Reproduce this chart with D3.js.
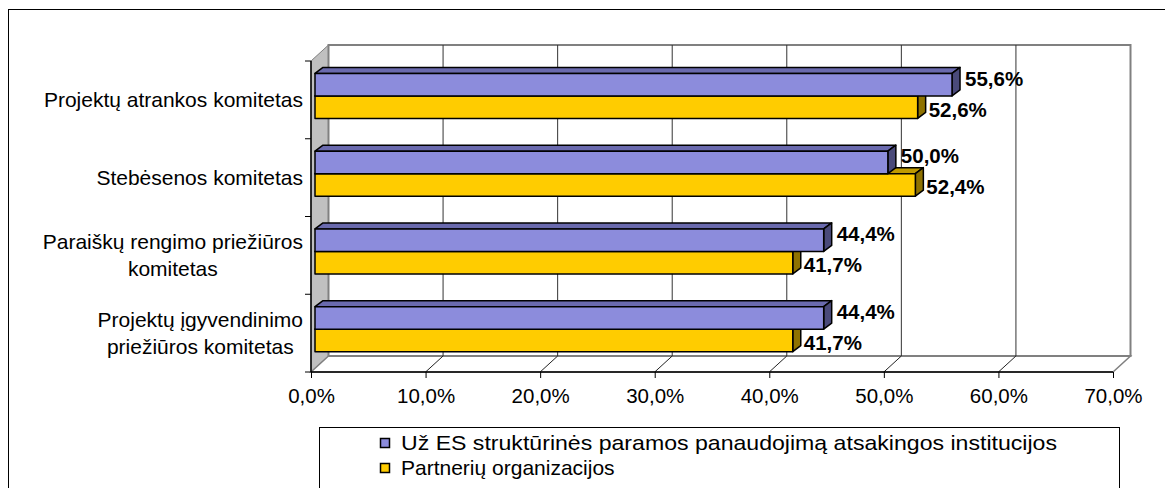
<!DOCTYPE html>
<html><head><meta charset="utf-8">
<script src="https://cdn.jsdelivr.net/npm/d3@7"></script>
<style>html,body{margin:0;padding:0;background:#fff;} svg{display:block;font-family:"Liberation Sans",Arial,sans-serif;}</style>
</head><body>
<svg id="c" width="1165" height="488"></svg>
<script>
const categories = [
  ["Projektų atrankos komitetas"],
  ["Stebėsenos komitetas"],
  ["Paraiškų rengimo priežiūros", "komitetas"],
  ["Projektų įgyvendinimo", "priežiūros komitetas"]
];
const seriesNames = ["Už ES struktūrinės paramos panaudojimą atsakingos institucijos", "Partnerių organizacijos"];
const seriesA = [55.6, 50.0, 44.4, 44.4];
const seriesB = [52.6, 52.4, 41.7, 41.7];
const ticks = [0, 10, 20, 30, 40, 50, 60, 70];

const svg = d3.select("#c");
const fmt = v => v.toFixed(1).replace(".", ",") + "%";

const x0 = 311, x1 = 1113, yTop = 61, yBot = 372;
const D = {dx: 17.5, dy: -16};
const x = d3.scaleLinear().domain([0, 70]).range([x0, x1]);
const y = d3.scaleBand().domain(d3.range(categories.length)).range([yTop, yBot]);

// outer border
svg.append("rect").attr("x", 8.5).attr("y", 9.5).attr("width", 1175).attr("height", 500)
  .attr("fill", "none").attr("stroke", "#000").attr("stroke-width", 1);

// left wall
svg.append("path").attr("d", `M${x0},${yTop}L${x0+D.dx},${yTop+D.dy}L${x0+D.dx},${yBot+D.dy}L${x0},${yBot}Z`)
  .attr("fill", "#c0c0c0").attr("stroke", "#808080").attr("stroke-width", 1);
// floor
svg.append("path").attr("d", `M${x0},${yBot}L${x1},${yBot}L${x1+D.dx},${yBot+D.dy}L${x0+D.dx},${yBot+D.dy}Z`)
  .attr("fill", "#fff").attr("stroke", "#808080").attr("stroke-width", 1.5);
// back wall
svg.append("rect").attr("x", x0+D.dx).attr("y", yTop+D.dy).attr("width", x1-x0).attr("height", yBot-yTop)
  .attr("fill", "#fff").attr("stroke", "#808080").attr("stroke-width", 2);

// gridlines on back wall + floor diagonals
const grid = svg.append("g");
ticks.slice(1, -1).forEach(t => {
  const gx = x(t);
  grid.append("line").attr("x1", gx+D.dx).attr("x2", gx+D.dx).attr("y1", yTop+D.dy).attr("y2", yBot+D.dy)
    .attr("stroke", "#333").attr("stroke-width", 1);
});
ticks.slice(1, -1).forEach(t => {
  const gx = x(t);
  grid.append("line").attr("x1", gx).attr("y1", yBot).attr("x2", gx+D.dx).attr("y2", yBot+D.dy)
    .attr("stroke", "#222").attr("stroke-width", 1);
});

// axes
const xa = svg.append("g").attr("transform", `translate(0,${yBot})`)
  .call(d3.axisBottom(x).tickValues(ticks).tickSize(6).tickPadding(10).tickFormat(fmt));
xa.select(".domain").attr("stroke", "#000").attr("stroke-width", 1.5).attr("d", `M${x0},0H${x1}`);
xa.selectAll(".tick line").attr("stroke", "#000");
xa.selectAll(".tick text").attr("font-size", 20.5).attr("fill", "#000")
  .attr("font-family", '"Liberation Sans",Arial,sans-serif');

svg.append("line").attr("x1", x0).attr("x2", x0).attr("y1", yTop).attr("y2", yBot)
  .attr("stroke", "#000").attr("stroke-width", 1.5);
d3.range(categories.length + 1).forEach(i => {
  const yy = yTop + i * y.step();
  svg.append("line").attr("x1", x0 - 6).attr("x2", x0).attr("y1", yy).attr("y2", yy)
    .attr("stroke", "#000").attr("stroke-width", 1);
});

// category labels
const lab = svg.append("g").attr("font-size", 21).attr("fill", "#000");
categories.forEach((lines, i) => {
  const cy = y(i) + y.bandwidth() / 2;
  const g = lab.append("g");
  const lh = 27;
  const texts = lines.map((l, j) => g.append("text").text(l)
    .attr("y", cy + (j - (lines.length - 1) / 2) * lh).attr("dy", "0.35em"));
  const w = d3.max(texts, t => t.node().getComputedTextLength());
  const right = 303;
  texts.forEach(t => t.attr("x", right - w / 2).attr("text-anchor", "middle"));
});

// bars
const front = {dx: 4, dy: -4};
const bd = {dx: 8, dy: -6};
const barH = 22.5;
const series = [
  {vals: seriesA, fill: "#8c8cdc", top: "#6a6aae", side: "#4a4a7a", off: -1},
  {vals: seriesB, fill: "#ffcc00", top: "#c09a00", side: "#8f7200", off: 0}
];
const bars = svg.append("g");
[1, 0].forEach(si => {
  const s = series[si];
  s.vals.forEach((v, i) => {
    const cy = y(i) + y.bandwidth() / 2 + front.dy;
    const yt = cy + s.off * barH, yb = yt + barH;
    const xl = x(0) + front.dx, xr = x(v) + front.dx;
    const g = bars.append("g").attr("stroke", "#000").attr("stroke-width", 1.5).attr("stroke-linejoin", "round");
    g.append("path").attr("fill", s.top)
      .attr("d", `M${xl},${yt}L${xl+bd.dx},${yt+bd.dy}L${xr+bd.dx},${yt+bd.dy}L${xr},${yt}Z`);
    g.append("path").attr("fill", s.side)
      .attr("d", `M${xr},${yt}L${xr+bd.dx},${yt+bd.dy}L${xr+bd.dx},${yb+bd.dy}L${xr},${yb}Z`);
    g.append("rect").attr("fill", s.fill).attr("x", xl).attr("y", yt).attr("width", xr - xl).attr("height", barH);
  });
});

// data labels with simple vertical separation
const dl = svg.append("g").attr("font-size", 20.5).attr("font-weight", "bold").attr("fill", "#000");
categories.forEach((c, i) => {
  const cy = y(i) + y.bandwidth() / 2 + front.dy;
  let ya = cy - barH / 2 - 2, yb = cy + barH / 2 - 2;
  const minSep = 31;
  if (yb - ya < minSep) { const m = (ya + yb) / 2; ya = m - minSep / 2; yb = m + minSep / 2; }
  dl.append("text").text(fmt(seriesA[i])).attr("x", x(seriesA[i]) + front.dx + 13).attr("y", ya).attr("dy", "0.35em");
  dl.append("text").text(fmt(seriesB[i])).attr("x", x(seriesB[i]) + front.dx + 11).attr("y", yb).attr("dy", "0.35em");
});

// legend
const lg = svg.append("g");
lg.append("rect").attr("x", 319.5).attr("y", 427.5).attr("width", 800).attr("height", 80)
  .attr("fill", "#fff").attr("stroke", "#000").attr("stroke-width", 1);
const lcol = ["#8c8cdc", "#ffcc00"];
seriesNames.forEach((n, i) => {
  const ly = 443 + i * 25;
  lg.append("rect").attr("x", 380.5).attr("y", ly - 4.5).attr("width", 9).attr("height", 9)
    .attr("fill", lcol[i]).attr("stroke", "#000").attr("stroke-width", 1.5);
  const t = lg.append("text").text(n).attr("x", 401).attr("y", ly).attr("dy", "0.35em").attr("font-size", 21).attr("fill", "#000");
  if (i === 0) t.attr("textLength", 656).attr("lengthAdjust", "spacingAndGlyphs");
});
</script>
</body></html>
